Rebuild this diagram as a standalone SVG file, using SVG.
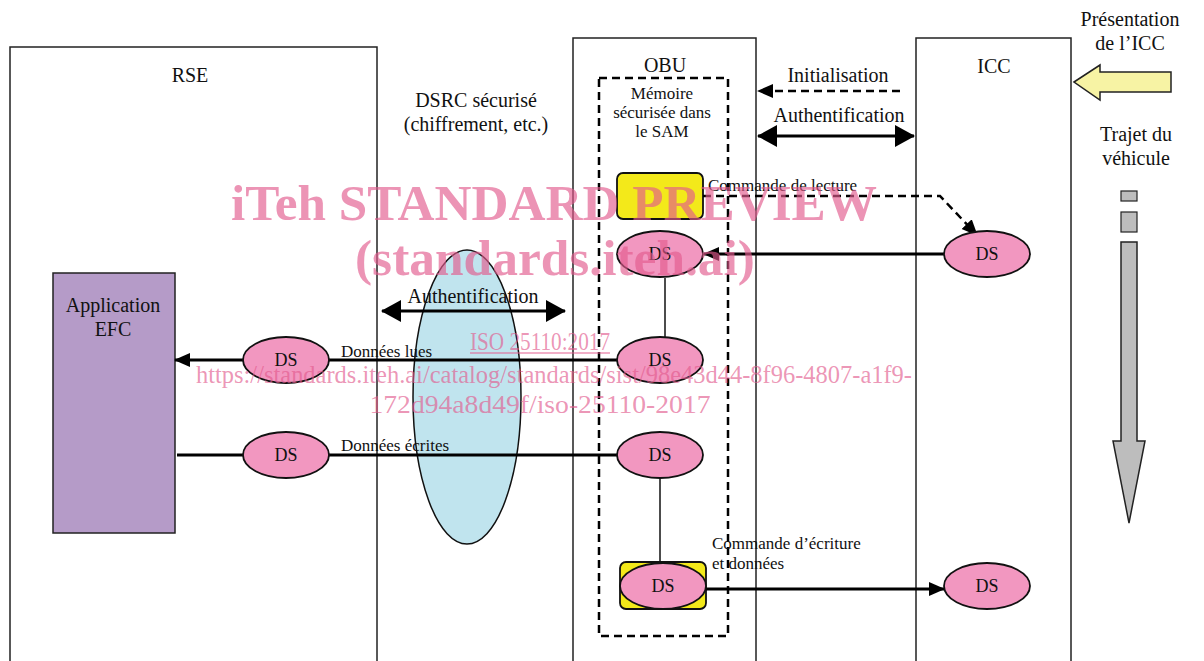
<svg xmlns="http://www.w3.org/2000/svg" width="1204" height="661" viewBox="0 0 1204 661">
<defs>
<style>
.box{fill:#fff;stroke:#222;stroke-width:1.5}
.t{font-family:"Liberation Serif","Times New Roman",serif;fill:#111;text-anchor:middle}
.st{text-anchor:start}
.lg{font-size:20px}
.sm{font-size:17px}
.dt{font-size:18px}
.ds{fill:#f297c0;stroke:#111;stroke-width:1.8}
.ylw{fill:#f3e91a;stroke:#111;stroke-width:1.8}
.ln{fill:none;stroke:#000;stroke-width:3}
.dash{fill:none;stroke:#000;stroke-width:2.5;stroke-dasharray:8 5}
.thin{fill:none;stroke:#111;stroke-width:1.5}
.wm{font-family:"Liberation Serif","Times New Roman",serif;fill:#e25a8d;fill-opacity:0.65;text-anchor:middle}
</style>
<marker id="ah" markerUnits="userSpaceOnUse" markerWidth="16" markerHeight="16" viewBox="0 0 16 16" refX="15" refY="8" orient="auto">
<path d="M0,1 L16,8 L0,15 Z" fill="#000"/>
</marker>
<marker id="big" markerUnits="userSpaceOnUse" markerWidth="20" markerHeight="22" viewBox="0 0 20 22" refX="19" refY="11" orient="auto-start-reverse">
<path d="M0,0 L20,11 L0,22 Z" fill="#000"/>
</marker>
</defs>

<g id="rse">
<rect class="box" x="10" y="47" width="367" height="630"/>
<text class="t lg" x="190" y="82">RSE</text>
</g>
<g id="obu">
<rect class="box" x="573" y="38" width="183" height="640"/>
<text class="t lg" x="665" y="72">OBU</text>
</g>
<g id="icc">
<rect class="box" x="916" y="38" width="155" height="640"/>
<text class="t lg" x="994" y="73">ICC</text>
</g>
<g id="sam">
<rect x="599" y="78" width="129" height="558" fill="none" stroke="#000" stroke-width="2.5" stroke-dasharray="8 5"/>
<text class="t sm" x="662" y="99">Mémoire</text>
<text class="t sm" x="662" y="118">sécurisée dans</text>
<text class="t sm" x="662" y="137">le SAM</text>
</g>
<g id="dsrc">
<ellipse cx="467" cy="397" rx="54" ry="147" fill="#c0e4ee" stroke="#111" stroke-width="1.5"/>
<text class="t lg" x="476" y="107">DSRC sécurisé</text>
<text class="t lg" x="476" y="131">(chiffrement, etc.)</text>
</g>
<g id="app">
<rect x="53" y="273" width="122" height="260" fill="#b59bc8" stroke="#222" stroke-width="1.5"/>
<text class="t lg" x="113" y="312">Application</text>
<text class="t lg" x="113" y="336">EFC</text>
</g>
<g id="cmd-read">
<rect class="ylw" x="617" y="173" width="86" height="46" rx="6"/>
</g>
<g id="cmd-write">
<rect class="ylw" x="620" y="562" width="86" height="47" rx="6"/>
</g>

<g id="connectors">
<line class="dash" x1="900" y1="91" x2="758" y2="91" marker-end="url(#ah)"/>
<line class="ln" stroke-width="4" x1="758" y1="136" x2="914" y2="136" marker-start="url(#big)" marker-end="url(#big)"/>
<line class="ln" stroke-width="4" x1="382" y1="311" x2="565" y2="311" marker-start="url(#big)" marker-end="url(#big)"/>
<path class="dash" d="M703,196 H940 L977,235" marker-end="url(#ah)"/>
<line class="ln" x1="944" y1="254" x2="704" y2="254" marker-end="url(#ah)"/>
<line class="thin" x1="665" y1="278" x2="665" y2="337"/>
<line class="ln" x1="617" y1="360" x2="175" y2="360" marker-end="url(#ah)"/>
<line class="ln" x1="177" y1="455" x2="617" y2="455"/>
<line class="thin" x1="660" y1="478" x2="660" y2="563"/>
<line class="ln" x1="706" y1="589" x2="944" y2="589" marker-end="url(#ah)"/>
<text class="t lg" x="838" y="82">Initialisation</text>
<text class="t lg" x="839" y="122">Authentification</text>
<text class="t lg" x="473" y="303">Authentification</text>
<text class="t sm st" x="708" y="191">Commande de lecture</text>
<text class="t sm st" x="341" y="357">Données lues</text>
<text class="t sm st" x="341" y="451">Données écrites</text>
<text class="t sm st" x="712" y="549">Commande d’écriture</text>
<text class="t sm st" x="712" y="569">et données</text>
</g>

<g id="ds-obu-1"><ellipse class="ds" cx="660" cy="254" rx="43" ry="23"/><text class="t dt" x="660" y="260">DS</text></g>
<g id="ds-icc-1"><ellipse class="ds" cx="987" cy="254" rx="43" ry="23"/><text class="t dt" x="987" y="260">DS</text></g>
<g id="ds-obu-2"><ellipse class="ds" cx="660" cy="360" rx="43" ry="23"/><text class="t dt" x="660" y="366">DS</text></g>
<g id="ds-rse-1"><ellipse class="ds" cx="286" cy="360" rx="43" ry="23"/><text class="t dt" x="286" y="366">DS</text></g>
<g id="ds-rse-2"><ellipse class="ds" cx="286" cy="455" rx="43" ry="23"/><text class="t dt" x="286" y="461">DS</text></g>
<g id="ds-obu-3"><ellipse class="ds" cx="660" cy="455" rx="43" ry="23"/><text class="t dt" x="660" y="461">DS</text></g>
<g id="ds-obu-4"><ellipse class="ds" cx="663" cy="586" rx="43" ry="23"/><text class="t dt" x="663" y="592">DS</text></g>
<g id="ds-icc-2"><ellipse class="ds" cx="987" cy="586" rx="43" ry="23"/><text class="t dt" x="987" y="592">DS</text></g>

<g id="presentation">
<text class="t lg" x="1130" y="26">Présentation</text>
<text class="t lg" x="1130" y="50">de l’ICC</text>
<path d="M1074,82 L1100,65 L1100,72 L1171,72 L1171,92 L1100,92 L1100,100 Z" fill="#f7f3a4" stroke="#222" stroke-width="1.5"/>
</g>
<g id="trajet">
<text class="t lg" x="1136" y="141">Trajet du</text>
<text class="t lg" x="1136" y="165">véhicule</text>
<rect x="1121" y="191" width="16" height="10" fill="#bdbdbd" stroke="#222" stroke-width="1.2"/>
<rect x="1121" y="212" width="16" height="20" fill="#bdbdbd" stroke="#222" stroke-width="1.2"/>
<path d="M1121,242 H1137 V441 H1145 L1129,523 L1113,441 H1121 Z" fill="#bdbdbd" stroke="#222" stroke-width="1.5"/>
</g>

<g id="watermark">
<text class="wm" x="554" y="220" font-size="50" font-weight="bold" textLength="646" lengthAdjust="spacingAndGlyphs">iTeh STANDARD PREVIEW</text>
<text class="wm" x="555" y="275" font-size="50" font-weight="bold" textLength="400" lengthAdjust="spacingAndGlyphs">(standards.iteh.ai)</text>
<text class="wm" x="540" y="350" font-size="26" textLength="140" lengthAdjust="spacingAndGlyphs">ISO 25110:2017</text>
<line x1="470" y1="353" x2="610" y2="353" stroke="#e25a8d" stroke-opacity="0.65" stroke-width="1.5"/>
<text class="wm" x="554" y="383" font-size="26" textLength="716" lengthAdjust="spacingAndGlyphs">https://standards.iteh.ai/catalog/standards/sist/98e43d44-8f96-4807-a1f9-</text>
<text class="wm" x="540" y="413" font-size="26" textLength="341" lengthAdjust="spacingAndGlyphs">172d94a8d49f/iso-25110-2017</text>
</g>
</svg>
